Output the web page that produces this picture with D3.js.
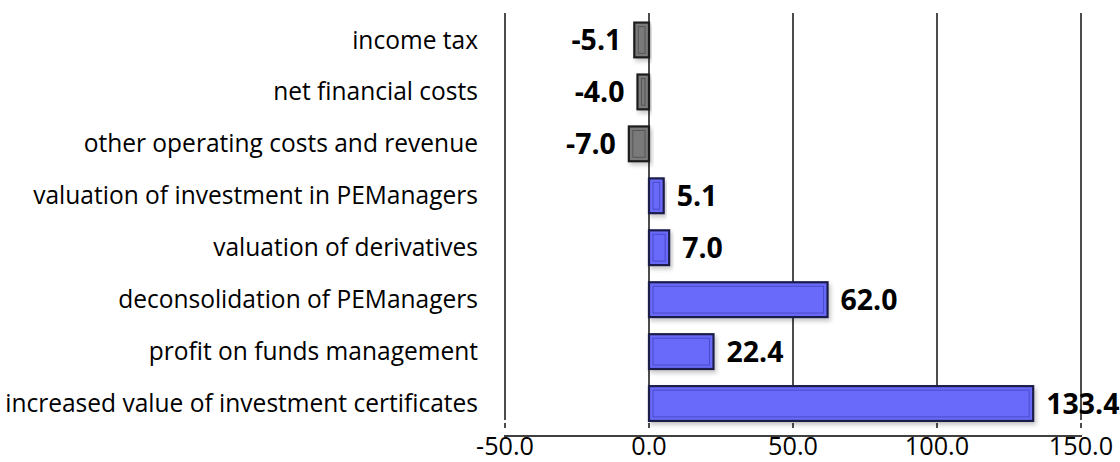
<!DOCTYPE html>
<html>
<head>
<meta charset="utf-8">
<script src="https://cdn.jsdelivr.net/npm/d3@7"></script>
<style>
  body { margin: 0; background: #fff; }
  svg { display: block; font-family: "Open Sans", sans-serif; }
</style>
</head>
<body>
<svg id="chart" width="1120" height="462"></svg>
<script>
const categories = [
    'income tax',
    'net financial costs',
    'other operating costs and revenue',
    'valuation of investment in PEManagers',
    'valuation of derivatives',
    'deconsolidation of PEManagers',
    'profit on funds management',
    'increased value of investment certificates'
];
const values = [-5.1, -4.0, -7.0, 5.1, 7.0, 62.0, 22.4, 133.4];
const ticks = [-50, 0, 50, 100, 150];

const svg = d3.select('#chart');

// font size so that a sample string gets a given width
function fitSize(str, width, weight) {
    let t = svg.append('text')
        .attr('font-size', 20)
        .attr('font-weight', weight)
        .text(str);
    let w = t.node().getComputedTextLength();
    t.remove();
    return 20 * width / w;
}
const catSize = fitSize(categories[7], 473, 'normal');
const tickSize = fitSize('-50.0', 58, 'normal');
const valSize = fitSize('62.0', 57, 'bold');

// soft shadow under the bars
const defs = svg.append('defs');
const f = defs.append('filter').attr('id', 'shadow')
    .attr('x', '-20%').attr('y', '-30%').attr('width', '140%').attr('height', '170%');
f.append('feDropShadow')
    .attr('dx', 2).attr('dy', 3).attr('stdDeviation', 2)
    .attr('flood-color', '#000').attr('flood-opacity', 0.22);

const x = d3.scaleLinear().domain([-50, 150]).range([505, 1081]);
const y = d3.scaleBand().domain(categories).range([14, 429.5]).paddingInner(0.33).paddingOuter(0.165);

// vertical gridlines
svg.append('g').selectAll('line')
    .data(ticks)
    .enter()
    .append('line')
    .attr('x1', d => x(d)).attr('x2', d => x(d))
    .attr('y1', 13).attr('y2', 420)
    .attr('stroke', '#000').attr('stroke-width', 1.4);

// little tick marks below the plot
svg.append('g').selectAll('line')
    .data(ticks)
    .enter()
    .append('line')
    .attr('x1', d => x(d)).attr('x2', d => x(d))
    .attr('y1', 423).attr('y2', 428)
    .attr('stroke', '#000').attr('stroke-width', 1.4);

// axis line and labels
svg.append('line')
    .attr('x1', x(-50) - 1).attr('x2', x(150) + 1)
    .attr('y1', 436).attr('y2', 436)
    .attr('stroke', '#000').attr('stroke-width', 1.4);

svg.append('g').selectAll('text')
    .data(ticks)
    .enter()
    .append('text')
    .attr('x', d => x(d))
    .attr('y', 455)
    .attr('text-anchor', 'middle')
    .attr('font-size', tickSize)
    .attr('fill', '#000')
    .text(d => d.toFixed(1));

// category labels
svg.append('g').selectAll('text')
    .data(categories)
    .enter()
    .append('text')
    .attr('x', 478)
    .attr('y', d => y(d) + y.bandwidth() / 2)
    .attr('dy', '0.35em')
    .attr('text-anchor', 'end')
    .attr('font-size', catSize)
    .attr('fill', '#000')
    .text(d => d);

// bars
const rows = categories.map((c, i) => ({cat: c, v: values[i]}));
const bar = svg.append('g').selectAll('g')
    .data(rows)
    .enter()
    .append('g');

bar.append('rect')
    .attr('x', d => x(Math.min(0, d.v)))
    .attr('y', d => y(d.cat))
    .attr('width', d => Math.abs(x(d.v) - x(0)))
    .attr('height', y.bandwidth())
    .attr('fill', d => d.v < 0 ? '#7a7a7a' : '#6b6bfa')
    .attr('stroke', d => d.v < 0 ? '#1e1e1e' : '#1c1c4a')
    .attr('stroke-width', 2.2)
    .attr('filter', 'url(#shadow)');

// inner bevel line
bar.append('rect')
    .attr('x', d => x(Math.min(0, d.v)) + 4)
    .attr('y', d => y(d.cat) + 4)
    .attr('width', d => Math.max(0, Math.abs(x(d.v) - x(0)) - 8))
    .attr('height', y.bandwidth() - 8)
    .attr('fill', 'none')
    .attr('stroke', d => d.v < 0 ? '#555' : '#4a4ac8')
    .attr('stroke-width', 1);

// value labels
bar.append('text')
    .attr('x', d => d.v < 0 ? x(d.v) - 13 : x(d.v) + 13)
    .attr('y', d => y(d.cat) + y.bandwidth() / 2)
    .attr('dy', '0.36em')
    .attr('text-anchor', d => d.v < 0 ? 'end' : 'start')
    .attr('font-size', valSize)
    .attr('font-weight', 'bold')
    .attr('fill', '#000')
    .text(d => d.v.toFixed(1));
</script>
</body>
</html>
